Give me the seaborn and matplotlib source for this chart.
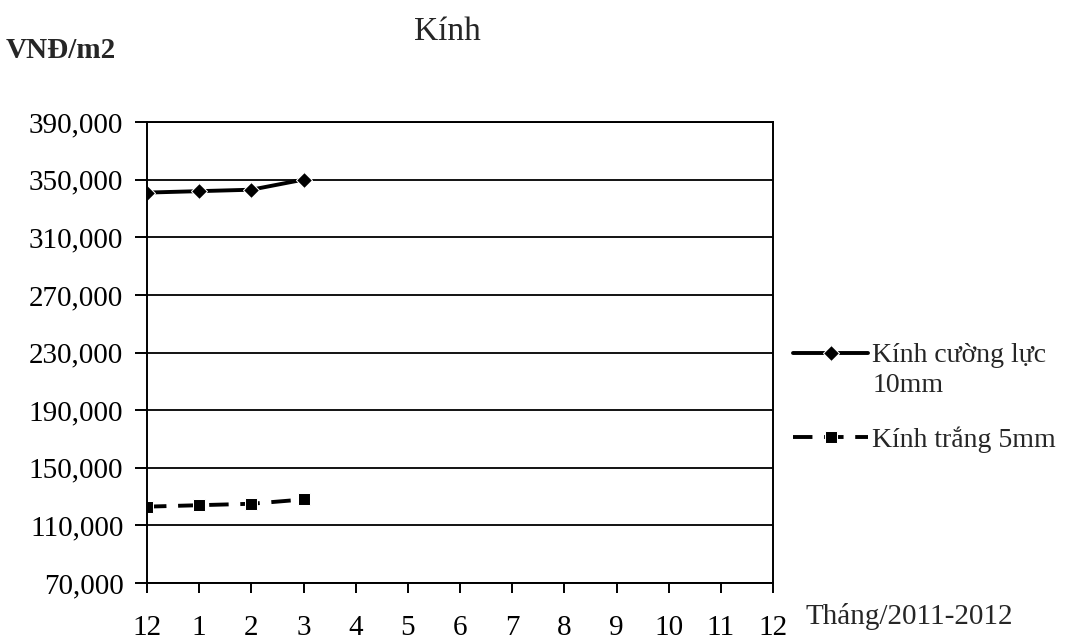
import matplotlib
matplotlib.use("Agg")
import matplotlib.pyplot as plt
import seaborn as sns
import pandas as pd
from matplotlib.ticker import FuncFormatter

months = ["12", "1", "2", "3", "4", "5", "6", "7", "8", "9", "10", "11", "12"]
series_names = ["Kính cường lực\n10mm", "Kính trắng 5mm"]
kinh_cuong_luc = [341000, 342000, 343000, 350000]
kinh_trang = [123000, 124000, 125000, 128000]

rows = []
for i, v in enumerate(kinh_cuong_luc):
    rows.append({"x": i, "y": v, "s": series_names[0]})
for i, v in enumerate(kinh_trang):
    rows.append({"x": i, "y": v, "s": series_names[1]})
df = pd.DataFrame(rows)

sns.set_theme(style="white")
plt.rcParams["font.family"] = ["Liberation Serif", "DejaVu Serif"]

fig = plt.figure(figsize=(10.75, 6.44), dpi=100)
ax = fig.add_axes([147/1075, 1-583/644, (773-147)/1075, (583-122)/644])

sns.lineplot(data=df, x="x", y="y", hue="s", style="s",
             palette=["black", "black"],
             markers={series_names[0]: "D", series_names[1]: "s"},
             dashes={series_names[0]: "", series_names[1]: (5, 3)},
             markersize=8, linewidth=2.8, ax=ax, legend=True)

ax.set_xlim(0, 12)
ax.set_ylim(70000, 390000)
ax.set_yticks(range(70000, 390001, 40000))
ax.yaxis.set_major_formatter(FuncFormatter(lambda v, p: f"{int(v):,}"))
ax.set_xticks(range(13))
ax.set_xticklabels(months)
ax.grid(axis="y", color="black", linewidth=1.3)
ax.grid(axis="x", visible=False)
for s in ["left", "right", "bottom", "top"]:
    ax.spines[s].set_color("black")
    ax.spines[s].set_linewidth(1.4)
ax.tick_params(axis="both", which="both", direction="out", width=1.4,
               color="black", labelsize=21, labelcolor="black")
ax.tick_params(axis="x", length=7, pad=16, bottom=True)
ax.tick_params(axis="y", length=9, pad=8, left=True)
ax.set_xlabel("")
ax.set_ylabel("")

fig.text(447/1075, 1-32/644, "Kính", ha="center", va="center", fontsize=24)
fig.text(6/1075, 1-50/644, "VNĐ/m2", ha="left", va="center", fontsize=21, fontweight="bold")
fig.text(805/1075, 1-616/644, "Tháng/2011-2012", ha="left", va="center", fontsize=21)

handles, labels = ax.get_legend_handles_labels()
first_lines = [l.split("\n")[0] for l in labels]
ax.legend(handles, first_lines, loc="center left", bbox_to_anchor=(793/1075, 1-398/644),
          bbox_transform=fig.transFigure, frameon=False, fontsize=20,
          handlelength=2.7, handletextpad=0.15, labelspacing=2.1,
          borderpad=0, borderaxespad=0)
fig.text(873/1075, 1-386/644, labels[0].split("\n")[1], ha="left", va="center", fontsize=20)

fig.savefig("out.png", dpi=100)
